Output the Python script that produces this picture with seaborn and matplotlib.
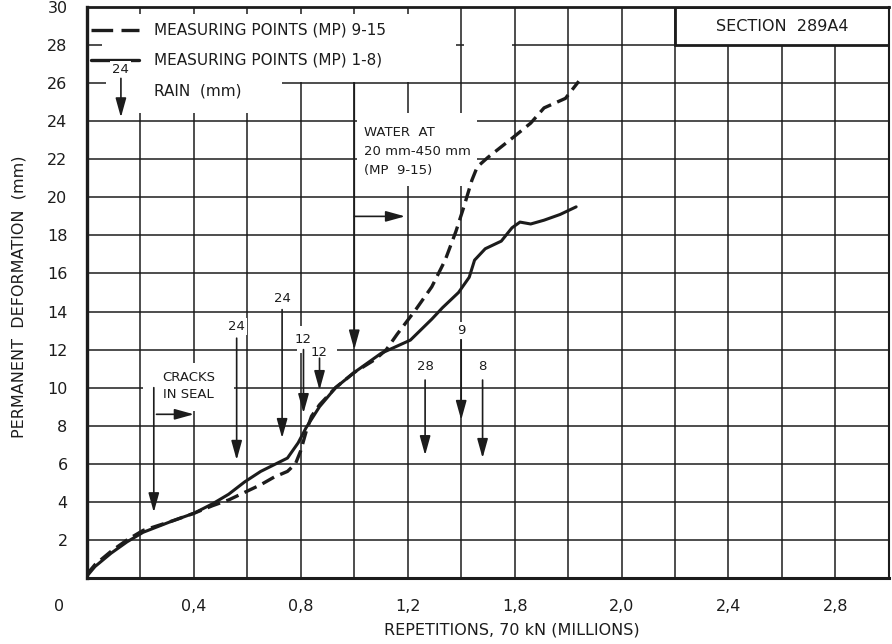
import numpy as np
import matplotlib
matplotlib.use("Agg")
import matplotlib.pyplot as plt
from matplotlib.patches import Rectangle
from matplotlib.transforms import ScaledTranslation
import seaborn as sns

# repetitions (millions) / permanent deformation (mm)
mp_1_8_x = [0, 0.03, 0.09, 0.15, 0.21, 0.32, 0.40, 0.47, 0.53, 0.59, 0.65, 0.70, 0.75,
            0.79, 0.82, 0.87, 0.93, 1.00, 1.10, 1.21, 1.29, 1.33, 1.39, 1.43, 1.45,
            1.49, 1.55, 1.59, 1.62, 1.66, 1.71, 1.77, 1.83]
mp_1_8_y = [0.1, 0.6, 1.3, 1.9, 2.4, 3.0, 3.4, 3.9, 4.4, 5.05, 5.6, 5.95, 6.3,
            7.1, 7.9, 9.0, 10.0, 10.8, 11.8, 12.5, 13.6, 14.2, 15.0, 15.8, 16.7,
            17.3, 17.7, 18.4, 18.7, 18.6, 18.8, 19.1, 19.5]

mp_9_15_x = [0, 0.03, 0.09, 0.15, 0.21, 0.32, 0.40, 0.47, 0.53, 0.59, 0.65, 0.70,
             0.75, 0.78, 0.80, 0.82, 0.84, 0.87, 0.93, 1.00, 1.08, 1.12, 1.16, 1.23,
             1.29, 1.34, 1.38, 1.41, 1.44, 1.46, 1.50, 1.59, 1.66, 1.71, 1.79, 1.84]
mp_9_15_y = [0.2, 0.7, 1.4, 2.0, 2.5, 3.0, 3.4, 3.8, 4.1, 4.5, 4.9, 5.3,
             5.6, 6.0, 6.7, 7.7, 8.5, 9.1, 10.0, 10.8, 11.5, 12.0, 12.8, 14.1,
             15.3, 16.7, 18.2, 19.5, 20.9, 21.6, 22.1, 23.1, 23.9, 24.7, 25.2, 26.1]

# rain events: position (millions of repetitions) and amount (mm)
rain_x = [0.127, 0.56, 0.73, 0.81, 0.87, 1.265, 1.40, 1.48]
rain_mm = ["24", "24", "24", "12", "12", "28", "9", "8"]
# label y, arrow start, arrow tip
rain_pos = [(26.7, 26.25, 24.2), (13.2, 12.6, 6.2), (14.7, 14.1, 7.35), (12.55, 12.0, 8.66),
            (11.85, 11.55, 9.87), (11.1, 10.4, 6.45), (13.0, 12.5, 8.3), (11.1, 10.4, 6.3)]

cracks_x = 0.25
water_x = 1.0

x_ticks = [0, 0.4, 0.8, 1.2, 1.6, 2.0, 2.4, 2.8]
x_labels = ["0", "0,4", "0,8", "1,2", "1,8", "2,0", "2,4", "2,8"]
y_ticks = list(range(2, 31, 2))

ink = "#1c1c1c"

sns.set_style("white")
plt.rcParams["font.family"] = ["DejaVu Sans"]

fig = plt.figure(figsize=(8.92, 6.44), dpi=100)
ax = fig.add_axes([0.0975, 0.1025, 0.899, 0.8866])

ax.set_xlim(0, 3.0)
ax.set_ylim(0, 30)
ax.set_xticks(x_ticks)
ax.set_xticklabels(x_labels)
ax.set_xticks(np.arange(0, 3.01, 0.2), minor=True)
ax.set_yticks(y_ticks)
ax.set_axisbelow(True)
ax.grid(True, which="both", color=ink, lw=1.1)
ax.tick_params(axis="both", which="both", length=0, labelsize=11.5, colors=ink)
ax.tick_params(axis="x", pad=15)
ax.tick_params(axis="y", pad=14)
# origin label sits left of the axis in the original
lab0 = ax.get_xticklabels()[0]
lab0.set_transform(lab0.get_transform() + ScaledTranslation(-0.28, 0, fig.dpi_scale_trans))

for side, w in [("left", 2.4), ("bottom", 2.2), ("top", 2.0), ("right", 1.5)]:
    ax.spines[side].set_linewidth(w)
    ax.spines[side].set_color(ink)

ax.set_xlabel("REPETITIONS, 70 kN (MILLIONS)", fontsize=11.5, color=ink)
ax.xaxis.set_label_coords(0.53, -0.078)
ax.set_ylabel("PERMANENT  DEFORMATION  (mm)", fontsize=11.5, color=ink)
ax.yaxis.set_label_coords(-0.075, 0.492)

# white areas where the original grid is blanked
masks = [(0.055, 26.05, 1.325, 3.6), (1.41, 27.6, 0.18, 0.8), (0.07, 24.45, 0.66, 1.85),
         (1.01, 20.6, 0.45, 3.85), (0.21, 8.75, 0.34, 2.55), (0.785, 11.8, 0.15, 1.45)]
for x0, y0, w, h in masks:
    ax.add_patch(Rectangle((x0, y0), w, h, facecolor="white", edgecolor="none", zorder=1))

# section box
ax.add_patch(Rectangle((2.2, 28), 0.8, 2, facecolor="white", edgecolor=ink, lw=2.0, zorder=2))
ax.text(2.6, 29.0, "SECTION  289A4", ha="center", va="center", fontsize=11.5, color=ink, zorder=5)

# curves
sns.lineplot(x=mp_9_15_x, y=mp_9_15_y, ax=ax, color=ink, lw=2.4, linestyle=(0, (4, 2)),
             sort=False, zorder=4)
sns.lineplot(x=mp_1_8_x, y=mp_1_8_y, ax=ax, color=ink, lw=2.2, sort=False, zorder=4)

# legend
ax.plot([0.015, 0.194], [28.8, 28.8], color=ink, lw=2.4, linestyle=(0, (6.5, 2.5)), zorder=4)
ax.plot([0.015, 0.194], [27.2, 27.2], color=ink, lw=2.4, zorder=4)
ax.text(0.25, 28.8, "MEASURING POINTS (MP) 9-15", va="center", fontsize=11, color=ink, zorder=5)
ax.text(0.25, 27.2, "MEASURING POINTS (MP) 1-8)", va="center", fontsize=11, color=ink, zorder=5)
ax.text(0.25, 25.6, "RAIN  (mm)", va="center", fontsize=11, color=ink, zorder=5)

arrow = dict(arrowstyle="-|>,head_length=0.9,head_width=0.25", color=ink, lw=1.2,
             mutation_scale=13, shrinkA=0, shrinkB=0)
small = dict(ha="center", va="center", fontsize=9.5, color=ink, zorder=5)

for x, mm, (ly, y0, y1) in zip(rain_x, rain_mm, rain_pos):
    ax.text(x, ly, mm, bbox=dict(facecolor="white", edgecolor="none", pad=1.5), **small)
    ax.annotate("", xy=(x, y1), xytext=(x, y0), arrowprops=arrow, zorder=5)

# cracks in seal
ax.text(0.38, 10.55, "CRACKS", **small)
ax.text(0.38, 9.66, "IN SEAL", **small)
ax.annotate("", xy=(cracks_x, 3.45), xytext=(cracks_x, 10.0), arrowprops=arrow, zorder=5)
ax.annotate("", xy=(0.40, 8.6), xytext=(cracks_x + 0.01, 8.6), arrowprops=arrow, zorder=5)

# water
ax.text(1.035, 23.4, "WATER  AT", ha="left", va="center", fontsize=9.5, color=ink, zorder=5)
ax.text(1.035, 22.4, "20 mm-450 mm", ha="left", va="center", fontsize=9.5, color=ink, zorder=5)
ax.text(1.035, 21.4, "(MP  9-15)", ha="left", va="center", fontsize=9.5, color=ink, zorder=5)
ax.annotate("", xy=(water_x, 12.0), xytext=(water_x, 26.0), arrowprops=arrow, zorder=5)
ax.annotate("", xy=(1.19, 19.0), xytext=(water_x, 19.0), arrowprops=arrow, zorder=5)

fig.savefig("out.png", dpi=100, facecolor="white")
